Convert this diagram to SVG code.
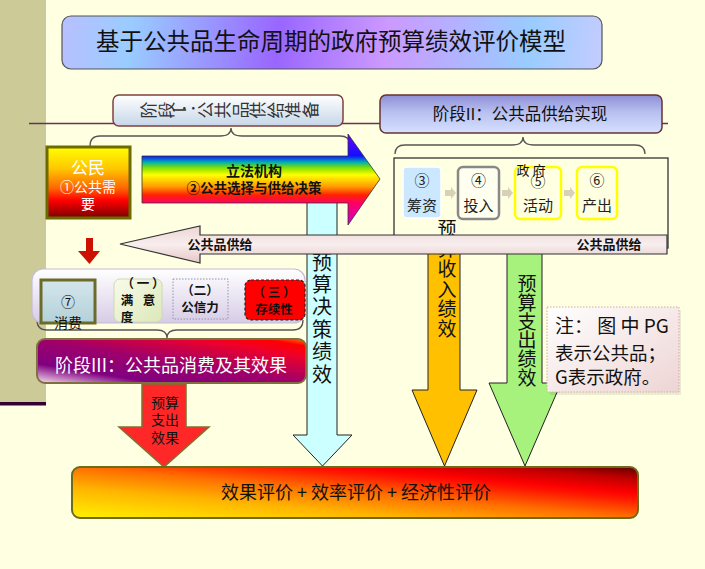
<svg xmlns="http://www.w3.org/2000/svg" width="705" height="569" viewBox="0 0 705 569">
<defs>
<style>
text{font-family:"Noto Sans CJK SC","Noto Sans",sans-serif;fill:#111}
.b{font-weight:bold}
.c{text-anchor:middle}
.w{fill:#fff}
.brace{fill:none;stroke:#555;stroke-width:1.3}
.arr{stroke:#222;stroke-width:1}
.gb{font-size:15px;fill:#222;text-anchor:middle}
.rot{font-size:17px;fill:#333;text-anchor:middle;dominant-baseline:central}
</style>
<linearGradient id="gTitle" gradientUnits="userSpaceOnUse" x1="62" y1="16" x2="602" y2="69">
<stop offset="0" stop-color="#B8C0FF"/><stop offset="0.13" stop-color="#99CCFF"/><stop offset="0.4" stop-color="#9966FF"/><stop offset="0.6" stop-color="#CC99FF"/><stop offset="0.86" stop-color="#99CCFF"/><stop offset="1" stop-color="#C4CCFF"/>
</linearGradient>
<linearGradient id="gS1" x1="0" y1="0" x2="0" y2="1"><stop offset="0" stop-color="#FFFFFF"/><stop offset="1" stop-color="#C6D6E8"/></linearGradient>
<linearGradient id="gS2" x1="0" y1="0" x2="0" y2="1"><stop offset="0" stop-color="#8E8ED6"/><stop offset="0.45" stop-color="#B8C0F0"/><stop offset="1" stop-color="#D6E0FF"/></linearGradient>
<linearGradient id="gCit" x1="0" y1="0" x2="0" y2="1"><stop offset="0" stop-color="#FFFF00"/><stop offset="0.3" stop-color="#FFC800"/><stop offset="0.58" stop-color="#FF6600"/><stop offset="0.75" stop-color="#FF0000"/><stop offset="1" stop-color="#7A0000"/></linearGradient>
<linearGradient id="gRain" gradientUnits="userSpaceOnUse" x1="0" y1="134" x2="0" y2="225">
<stop offset="0" stop-color="#7000FF"/><stop offset="0.24" stop-color="#1010FF"/><stop offset="0.31" stop-color="#00B0B0"/><stop offset="0.37" stop-color="#80E000"/><stop offset="0.45" stop-color="#FFFF00"/><stop offset="0.58" stop-color="#FF9900"/><stop offset="0.67" stop-color="#FF2200"/><stop offset="0.76" stop-color="#FF0066"/><stop offset="1" stop-color="#CC00CC"/>
</linearGradient>
<linearGradient id="gSup" x1="0" y1="0" x2="0" y2="1"><stop offset="0" stop-color="#EED4D4"/><stop offset="0.5" stop-color="#F8EEEE"/><stop offset="1" stop-color="#E6C6C6"/></linearGradient>
<linearGradient id="gPanel" x1="0" y1="0" x2="0" y2="1"><stop offset="0" stop-color="#FFFFFF"/><stop offset="1" stop-color="#D6CCE6"/></linearGradient>
<linearGradient id="gS3" x1="0" y1="1" x2="1" y2="0">
<stop offset="0" stop-color="#F6E2F0"/><stop offset="0.22" stop-color="#800080"/><stop offset="0.5" stop-color="#A0006A"/><stop offset="0.8" stop-color="#F00028"/><stop offset="0.92" stop-color="#FF0000"/><stop offset="1" stop-color="#FF8000"/>
</linearGradient>
<linearGradient id="gBot" x1="0" y1="1" x2="1" y2="0">
<stop offset="0" stop-color="#FFF200"/><stop offset="0.3" stop-color="#FFB400"/><stop offset="0.5" stop-color="#FF7000"/><stop offset="0.68" stop-color="#FF1800"/><stop offset="0.74" stop-color="#FF0000"/><stop offset="0.88" stop-color="#C00000"/><stop offset="1" stop-color="#600000"/>
</linearGradient>
<linearGradient id="gNote" x1="0" y1="0" x2="1" y2="1"><stop offset="0" stop-color="#FFFFFF"/><stop offset="1" stop-color="#EED4D4"/></linearGradient>
<linearGradient id="gSat" x1="0" y1="0" x2="1" y2="1"><stop offset="0" stop-color="#F8FBEA"/><stop offset="1" stop-color="#DCE8B8"/></linearGradient>
<linearGradient id="gCons" x1="0" y1="0" x2="0" y2="1"><stop offset="0" stop-color="#D4E6EC"/><stop offset="1" stop-color="#B4D0D8"/></linearGradient>
</defs>

<rect x="0" y="0" width="705" height="569" fill="#FFFFE2"/>
<rect x="0" y="0" width="46" height="402" fill="#CCCB98"/>
<rect x="0" y="402" width="46" height="3.5" fill="#330033"/>
<line x1="29" y1="123.5" x2="668" y2="123.5" stroke="#663355" stroke-width="1.5"/>

<g id="title">
<rect x="62" y="16" width="540" height="53" rx="9" fill="url(#gTitle)" stroke="#555" stroke-width="1.2"/>
<text x="331" y="50" class="c" font-size="23.5">基于公共品生命周期的政府预算绩效评价模型</text>
</g>

<g id="stage1">
<rect x="113" y="95" width="230" height="31" rx="6" fill="url(#gS1)" stroke="#804040" stroke-width="1.5"/>
<text class="rot" x="147" y="110" transform="rotate(-90 147 110)">阶</text>
<text class="rot" x="165" y="110" transform="rotate(-90 165 110)">段</text>
<text class="rot" x="178" y="110" transform="rotate(-90 178 110)">I</text>
<text class="rot" x="186" y="104" transform="rotate(-90 186 104)">：</text>
<text class="rot" x="204" y="110" transform="rotate(-90 204 110)">公</text>
<text class="rot" x="221" y="110" transform="rotate(-90 221 110)">共</text>
<text class="rot" x="239" y="110" transform="rotate(-90 239 110)">品</text>
<text class="rot" x="256" y="110" transform="rotate(-90 256 110)">供</text>
<text class="rot" x="274" y="110" transform="rotate(-90 274 110)">给</text>
<text class="rot" x="291" y="110" transform="rotate(-90 291 110)">准</text>
<text class="rot" x="309" y="110" transform="rotate(-90 309 110)">备</text>
</g>

<g id="stage2">
<rect x="380" y="95" width="282" height="38" rx="6" fill="url(#gS2)" stroke="#663333" stroke-width="1.5"/>
<text x="520" y="120" class="c" font-size="16.5" fill="#444">阶段II：公共品供给实现</text>
</g>

<g id="braces">
<path class="brace" d="M90,146 Q90,136 100,136 L220,136 Q231,136 231,128 Q231,136 242,136 L340,136 Q350,136 350,145"/>
<path class="brace" d="M395,154 Q395,145 405,145 L512,145 Q523,145 523,137 Q523,145 534,145 L635,145 Q645,145 645,154"/>
<path class="brace" d="M37,320 Q37,330 47,330 L157,330 Q167,330 167,338 Q167,330 177,330 L293,330 Q303,330 303,320"/>
</g>

<g id="government">
<rect x="394" y="158" width="274" height="90" fill="#FFFFE2" stroke="#222" stroke-width="1.2"/>
<g id="n3">
<rect x="403" y="167" width="38" height="51" rx="4" fill="#CCE8FF" stroke="#FFFFFF" stroke-width="1.5"/>
<text x="422" y="186" class="gb">③</text><text x="422" y="211" class="gb">筹资</text>
</g>
<g id="n4">
<rect x="458" y="167" width="41" height="52" rx="5" fill="#FFFFF0" stroke="#888" stroke-width="2.5"/>
<text x="478.5" y="186" class="gb">④</text><text x="478.5" y="211" class="gb">投入</text>
</g>
<g id="n5">
<rect x="515" y="167" width="46" height="52" rx="5" fill="#FFFFE2" stroke="#FFFF00" stroke-width="2.5"/>
<text x="538" y="187" class="gb">⑤</text><text x="538" y="211" class="gb">活动</text>
</g>
<g id="n6">
<rect x="577" y="167" width="40" height="52" rx="5" fill="#FFFFE2" stroke="#FFFF00" stroke-width="2.5"/>
<text x="597" y="186" class="gb">⑥</text><text x="597" y="211" class="gb">产出</text>
</g>
<text x="531" y="175" class="c" font-size="13" fill="#222">政 府</text>
</g>

<g id="connectors">
<path d="M445,190 L451,190 L451,187 L456,193 L451,199 L451,196 L445,196 Z" fill="#D8D0B8"/>
<path d="M502,190 L508,190 L508,187 L513,193 L508,199 L508,196 L502,196 Z" fill="#D8D0B8"/>
<path d="M564,190 L570,190 L570,187 L575,193 L570,199 L570,196 L564,196 Z" fill="#D8D0B8"/>
<path d="M162,300 L173,300" stroke="#555" stroke-width="3" stroke-dasharray="2,1.5"/>
<path d="M229,298 L244,298 L244,302 L229,302 Z" fill="#F4F4F4" stroke="#999" stroke-width="0.8" stroke-dasharray="1.5,1"/>
</g>

<g id="arrow-decision">
<path class="arr" d="M307,200 L337,200 L337,435 L352,435 L322.5,466 L293,435 L307,435 Z" fill="#CCFFFF"/>
<text font-size="20" class="c" fill="#111"><tspan x="322" y="270">预</tspan><tspan x="322" y="292">算</tspan><tspan x="322" y="314">决</tspan><tspan x="322" y="337">策</tspan><tspan x="322" y="359">绩</tspan><tspan x="322" y="382">效</tspan></text>
</g>

<g id="arrow-revenue">
<path class="arr" d="M428,240 L460,240 L460,390 L477,390 L444.5,466 L412,390 L428,390 Z" fill="#FFC000"/>
<text font-size="19" class="c" fill="#111"><tspan x="447" y="236">预</tspan><tspan x="447" y="256">算</tspan><tspan x="447" y="276">收</tspan><tspan x="447" y="297">入</tspan><tspan x="447" y="316">绩</tspan><tspan x="447" y="336">效</tspan></text>
</g>

<g id="arrow-expense">
<path class="arr" d="M507,240 L542,240 L542,383 L561,383 L525,466 L489,383 L507,383 Z" fill="#A6F27C"/>
<text font-size="19" class="c" fill="#111"><tspan x="527" y="291">预</tspan><tspan x="527" y="310">算</tspan><tspan x="527" y="329">支</tspan><tspan x="527" y="347">出</tspan><tspan x="527" y="366">绩</tspan><tspan x="527" y="385">效</tspan></text>
</g>

<g id="citizen">
<rect x="47" y="147" width="83" height="71" fill="url(#gCit)" stroke="#6B6B00" stroke-width="3"/>
<text x="88" y="174" class="c w" font-size="17">公民</text>
<text x="88" y="192" class="c w" font-size="14">①公共需</text>
<text x="88" y="209" class="c w" font-size="14">要</text>
</g>

<g id="legislature">
<path d="M142,156 L348,156 L348,134 L380,179 L348,225 L348,203 L142,203 Z" fill="url(#gRain)" stroke="#333" stroke-width="0.8"/>
<text x="254" y="176" class="c b" font-size="14">立法机构</text>
<text x="254" y="193" class="c b" font-size="13.5">②公共选择与供给决策</text>
</g>

<g id="supply">
<path d="M120,244 L200,226 L200,235 L667,235 L667,254 L200,254 L200,263 Z" fill="url(#gSup)" stroke="#333" stroke-width="1.2"/>
<text x="220" y="249" class="c b" font-size="13">公共品供给</text>
<text x="609" y="249" class="c b" font-size="13">公共品供给</text>
</g>

<g id="down-small">
<path d="M86,238 L93,238 L93,251 L100,251 L89.5,264 L78,251 L86,251 Z" fill="#CC1100"/>
</g>

<g id="stage3-panel">
<rect x="32" y="269" width="273" height="54" rx="11" fill="url(#gPanel)" stroke="#C4BCD4" stroke-width="1.2"/>
<g id="n7">
<rect x="41" y="280" width="54" height="43" fill="url(#gCons)" stroke="#6B6B2A" stroke-width="3"/>
<text x="68" y="307" class="c" font-size="14">⑦</text>
<text x="68" y="328" class="c" font-size="14">消费</text>
</g>
<g id="s1">
<rect x="114" y="279" width="48" height="43" rx="6" fill="url(#gSat)" stroke="#D0D8B0" stroke-width="1"/>
<text x="143" y="288" class="c b" font-size="12.5">（ 一 ）</text>
<text x="127" y="305" class="c b" font-size="12.5">满</text>
<text x="149" y="305" class="c b" font-size="12.5">意</text>
<text x="127" y="322" class="c b" font-size="12.5">度</text>
</g>
<g id="s2">
<rect x="173" y="279" width="55" height="40" fill="none" stroke="#9A90B0" stroke-width="1" stroke-dasharray="1.5,1.5"/>
<text x="200" y="295" class="c b" font-size="12.5">（二）</text>
<text x="200" y="312" class="c b" font-size="12.5">公信力</text>
</g>
<g id="s3">
<rect x="245" y="280" width="60" height="40" rx="6" fill="#FF0000" stroke="#222" stroke-width="1.2" stroke-dasharray="3,2"/>
<text x="274" y="297" class="c b" font-size="12.5" fill="#300">（ 三 ）</text>
<text x="274" y="314" class="c b" font-size="12.5" fill="#300">存续性</text>
</g>
</g>

<g id="stage3">
<rect x="37" y="339" width="269" height="44" rx="8" fill="url(#gS3)" stroke="#807040" stroke-width="2"/>
<text x="171" y="372" class="c w" font-size="18">阶段III：公共品消费及其效果</text>
</g>

<g id="arrow-consumption">
<path d="M142,384 L186,384 L186,427 L209,427 L164,467 L119,427 L142,427 Z" fill="#FF2828" stroke="#807030" stroke-width="1.5"/>
<text font-size="14" class="c" fill="#200"><tspan x="165" y="408">预算</tspan><tspan x="165" y="425">支出</tspan><tspan x="165" y="443">效果</tspan></text>
</g>

<g id="note">
<rect x="550" y="310" width="131" height="85" fill="#000" opacity="0.08"/>
<rect x="547" y="307" width="132" height="85" fill="url(#gNote)" stroke="#D8A8A8" stroke-width="1" stroke-dasharray="1.5,1.5"/>
<text x="555" y="333" font-size="19" fill="#333">注： 图 中 PG</text>
<text x="555" y="360" font-size="18.5" fill="#333">表示公共品；</text>
<text x="555" y="384" font-size="18.5" fill="#333">G表示政府。</text>
</g>

<g id="evaluation">
<rect x="72" y="467" width="566" height="51" rx="8" fill="url(#gBot)" stroke="#6B6B1A" stroke-width="2"/>
<text x="356" y="499" class="c" font-size="18">效果评价 + 效率评价 + 经济性评价</text>
</g>
</svg>
